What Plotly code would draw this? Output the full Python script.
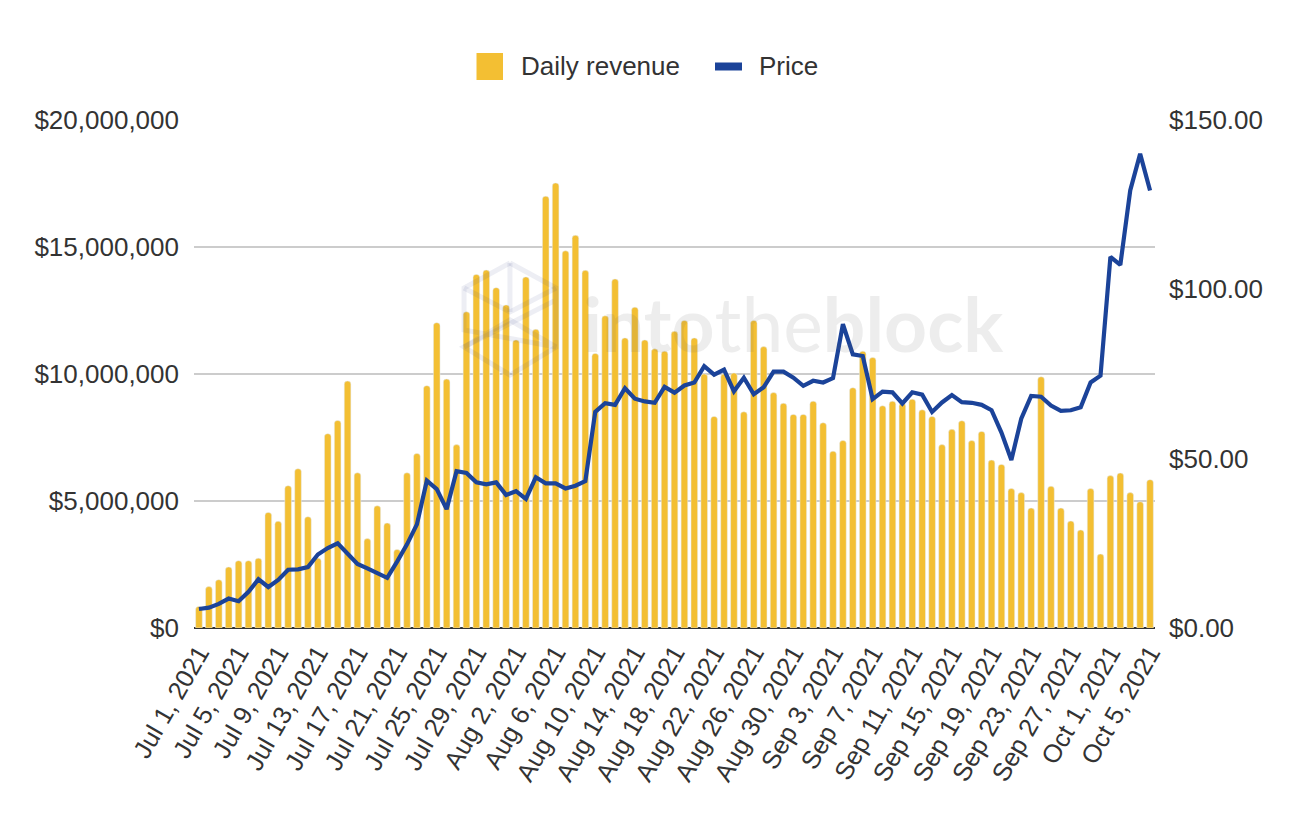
import pandas as pd
import plotly.graph_objects as go

dates = [d.strftime("%b ") + str(d.day) + d.strftime(", %Y") for d in pd.date_range("2021-07-01", "2021-10-05")]

daily_revenue = [
    0.85, 1.63, 1.90, 2.40, 2.65, 2.65, 2.75, 4.55, 4.20, 5.60,
    6.27, 4.38, 2.75, 7.65, 8.17, 9.72, 6.11, 3.52, 4.81, 4.13,
    3.09, 6.11, 6.87, 9.54, 12.02, 9.80, 7.22, 12.45, 13.92, 14.09,
    13.40, 12.72, 11.34, 13.82, 11.76, 17.00, 17.52, 14.85, 15.46, 14.08,
    10.81, 12.29, 13.74, 11.42, 12.63, 11.34, 10.99, 10.90, 11.68, 12.11,
    11.42, 10.00, 8.33, 10.00, 10.04, 8.51, 12.11, 11.08, 9.27, 8.85,
    8.41, 8.41, 8.93, 8.08, 6.96, 7.38, 9.46, 10.90, 10.65, 8.75,
    8.93, 8.85, 9.01, 8.59, 8.33, 7.22, 7.82, 8.16, 7.38, 7.74,
    6.61, 6.44, 5.49, 5.33, 4.72, 9.89, 5.58, 4.72, 4.21, 3.86,
    5.49, 2.91, 6.00, 6.10, 5.33, 4.97, 5.84,
]
daily_revenue = [v * 1000000 for v in daily_revenue]

price = [
    5.6, 6.0, 7.1, 8.7, 7.9, 10.7, 14.4, 12.1, 14.2, 17.2,
    17.3, 18.0, 21.7, 23.6, 25.0, 22.0, 18.9, 17.6, 16.1, 14.8,
    19.6, 24.7, 30.6, 43.5, 41.0, 35.1, 46.3, 45.8, 43.0, 42.4,
    43.0, 39.3, 40.4, 38.1, 44.5, 42.7, 42.7, 41.2, 42.0, 43.4,
    63.8, 66.4, 65.9, 70.8, 67.7, 66.9, 66.5, 71.2, 69.5, 71.6,
    72.5, 77.3, 74.8, 76.3, 69.9, 73.9, 69.0, 71.1, 75.7, 75.7,
    73.9, 71.5, 73.0, 72.5, 73.8, 89.7, 80.8, 80.3, 67.6, 69.8,
    69.6, 66.3, 69.6, 68.9, 63.8, 66.6, 68.8, 66.7, 66.5, 65.9,
    64.3, 57.7, 49.6, 61.8, 68.5, 68.3, 65.7, 64.1, 64.3, 65.2,
    72.5, 74.5, 109.6, 107.2, 129.2, 140.0, 129.2,
]

x_ticks = dates[::4]
rev_ticks = [0, 5000000, 10000000, 15000000, 20000000]
rev_labels = ["$0", "$5,000,000", "$10,000,000", "$15,000,000", "$20,000,000"]
price_ticks = [0, 50, 100, 150]
price_labels = ["$0.00", "$50.00", "$100.00", "$150.00"]

YELLOW = "#F3BF33"
BLUE = "#1B4399"
TEXT = "#333333"
FONT = "Liberation Sans"
W, H = 1303, 825
BODY = 8  # page margin around the plot div
LEFT, RIGHT, TOP, BOTTOM = 194, 1155, 120, 628


def px(x):
    return (x - LEFT) / (RIGHT - LEFT)


def py(y):
    return (BOTTOM - y) / (BOTTOM - TOP)


def path(points):
    return "M" + " L".join(f"{px(a):.4f},{py(b):.4f}" for a, b in points)


fig = go.Figure()
fig.add_trace(go.Bar(x=dates, y=daily_revenue, name="Daily revenue", marker=dict(color=YELLOW, cornerradius=3),
                     yaxis="y"))
fig.add_trace(go.Scatter(x=dates, y=price, name="Price", mode="lines", line=dict(color=BLUE, width=4.2),
                         yaxis="y2"))

# watermark logo, two stacked hexagons
logo = [
    [(510, 263), (556, 288), (556, 300), (464, 347), (510, 375), (556, 347), (556, 300)],
    [(510, 263), (464, 288), (464, 330), (556, 347), (510, 320), (464, 347)],
    [(464, 288), (510, 312), (556, 288)],
    [(510, 263), (510, 312)],
]
shapes = [dict(type="path", xref="paper", yref="paper", path=path(p), layer="above",
               line=dict(color="rgba(60,70,130,0.09)", width=5)) for p in logo]

# legend swatches
shapes.append(dict(type="rect", xref="paper", yref="paper", x0=px(476.5), x1=px(503), y0=py(53), y1=py(80),
                   fillcolor=YELLOW, line=dict(width=0), layer="above"))
shapes.append(dict(type="rect", xref="paper", yref="paper", x0=px(715), x1=px(742), y0=py(62.5), y1=py(70.5),
                   fillcolor=BLUE, line=dict(width=0), layer="above"))

annotations = [
    dict(text="Daily revenue", x=px(519), y=py(66.5), xref="paper", yref="paper", xanchor="left", yanchor="middle",
         showarrow=False, font=dict(family=FONT, size=26, color=TEXT)),
    dict(text="Price", x=px(757), y=py(66.5), xref="paper", yref="paper", xanchor="left", yanchor="middle",
         showarrow=False, font=dict(family=FONT, size=26, color=TEXT)),
    dict(text="<b>into</b>the<b>block</b>", x=px(581), y=py(323), xref="paper", yref="paper", xanchor="left",
         yanchor="middle", showarrow=False, font=dict(family="Lato", size=75, color="rgba(110,110,110,0.12)")),
]

fig.update_layout(
    width=W - 2 * BODY,
    height=H - 2 * BODY,
    margin=dict(l=LEFT - BODY, r=W - BODY - RIGHT, t=TOP - BODY, b=H - BODY - BOTTOM),
    paper_bgcolor="white",
    plot_bgcolor="white",
    showlegend=False,
    shapes=shapes,
    annotations=annotations,
    font=dict(family=FONT, size=26, color=TEXT),
    bargap=0.33,
    xaxis=dict(
        type="category",
        categoryorder="array",
        categoryarray=dates,
        range=[-0.5, len(dates) - 0.5],
        tickmode="array",
        tickvals=x_ticks,
        ticktext=x_ticks,
        tickangle=-60,
        tickfont=dict(size=25.5),
        showgrid=False,
        ticks="",
        ticklabelstandoff=4,
        automargin=False,
    ),
    yaxis=dict(
        range=[0, 20000000],
        tickmode="array",
        tickvals=rev_ticks,
        ticktext=rev_labels,
        gridcolor="#CCCCCC",
        gridwidth=2,
        zeroline=True,
        zerolinecolor="#333333",
        zerolinewidth=2,
        ticks="",
        ticklabelstandoff=14,
        automargin=False,
    ),
    yaxis2=dict(
        range=[0, 150],
        overlaying="y",
        side="right",
        tickmode="array",
        tickvals=price_ticks,
        ticktext=price_labels,
        showgrid=False,
        zeroline=False,
        ticks="",
        ticklabelstandoff=13,
        automargin=False,
    ),
)

fig.write_html("out.html")
